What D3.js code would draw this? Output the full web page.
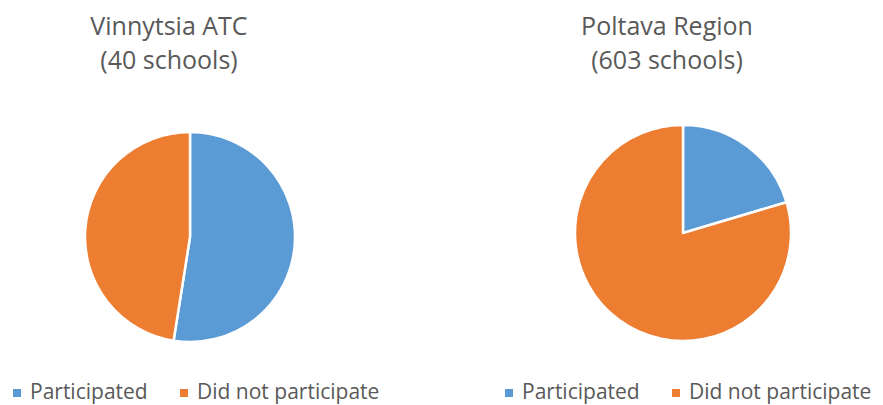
<!DOCTYPE html>
<html>
<head>
<meta charset="utf-8">
<script src="https://cdn.jsdelivr.net/npm/d3@7"></script>
<style>
  body { margin: 0; background: #fff; }
  text { font-family: 'Open Sans', sans-serif; fill: #595959; }
</style>
</head>
<body>
<svg id="chart"></svg>
<script>
// data
const regions = ['Vinnytsia ATC', 'Poltava Region'];
const schoolCounts = [40, 603];
const categories = ['Participated', 'Did not participate'];
const participated = [21, 123];
const notParticipated = [19, 480];

const W = 883, H = 405;
const svg = d3.select('#chart').attr('width', W).attr('height', H);

const color = d3.scaleOrdinal()
    .domain(categories)
    .range(['#5b9bd5', '#ed7d31']);

/* each panel: where the pie and title sit */
const panels = [
    {x: 0, cx: 190, cy: 237, r: 105, titleX: 169},
    {x: 492, cx: 683, cy: 233, r: 108, titleX: 667}
];

const pie = d3.pie().sort(null).value(d => d.value);

regions.forEach((region, i) => {
    const p = panels[i];
    const g = svg.append('g').attr('transform', 'translate(' + p.x + ',0)');
    const slices = [
        {key: categories[0], value: participated[i]},
        {key: categories[1], value: notParticipated[i]}
    ];

    /* title, two lines */
    const tx = p.titleX - p.x;
    g.append('text')
        .attr('x', tx).attr('y', 35)
        .attr('text-anchor', 'middle')
        .style('font-size', '25px')
        .text(region);
    g.append('text')
        .attr('x', tx).attr('y', 69)
        .attr('text-anchor', 'middle')
        .style('font-size', '25px')
        .text('(' + schoolCounts[i] + ' schools)');

    /* pie */
    const arc = d3.arc().innerRadius(0).outerRadius(p.r);
    g.append('g')
        .attr('transform', 'translate(' + (p.cx - p.x) + ',' + p.cy + ')')
        .selectAll('path')
        .data(pie(slices))
        .enter().append('path')
        .attr('d', arc)
        .attr('fill', d => color(d.data.key))
        .attr('stroke', '#fff')
        .attr('stroke-width', 2.5)
        .attr('stroke-linejoin', 'round');

    /* legend */
    const legendX = [13, 180];
    const legend = g.selectAll('.legend')
        .data(categories)
        .enter().append('g')
        .attr('transform', (d, j) => 'translate(' + legendX[j] + ',0)');
    legend.append('rect')
        .attr('y', 389)
        .attr('width', 8)
        .attr('height', 8)
        .attr('fill', d => color(d));
    legend.append('text')
        .attr('x', 17)
        .attr('y', 399)
        .style('font-size', '21px')
        .text(d => d);
});
</script>
</body>
</html>
